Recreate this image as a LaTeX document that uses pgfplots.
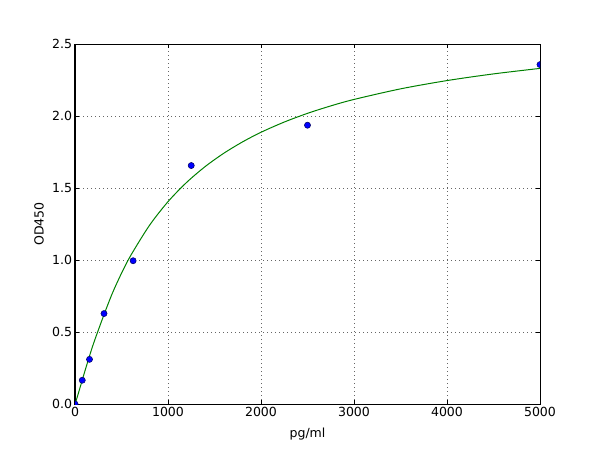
\documentclass[border=0pt]{standalone}
\usepackage{fontspec}
\setmainfont{DejaVu Sans}
\usepackage{pgfplots}
\pgfplotsset{compat=1.18}
\begin{document}
\fontsize{9.4pt}{11pt}\selectfont
\begin{tikzpicture}[x=1pt,y=1pt]
\path[use as bounding box] (-56.25,-34.5) rectangle (393.75,303);
\begin{axis}[
  at={(0,0)}, anchor=south west,
  width=348.75pt, height=270pt, scale only axis,
  xmin=0, xmax=5000, ymin=0, ymax=2.5,
  xtick={0,1000,2000,3000,4000,5000},
  ytick={0,0.5,1,1.5,2,2.5},
  yticklabel style={/pgf/number format/.cd, fixed, fixed zerofill, precision=1},
  xticklabel style={/pgf/number format/.cd, fixed, 1000 sep={}},
  /pgf/number format/assume math mode=true,
  scaled x ticks=false, scaled y ticks=false,
  tick align=inside, tick pos=both,
  major tick length=3pt,
  tick style={black, line width=0.5pt},
  axis line style={black, line width=0.75pt},
  grid=major, grid style={black!60, dash pattern=on 0.75pt off 2.25pt, line width=0.5pt},
  clip marker paths=true,
  xlabel={pg/ml}, ylabel={OD450},
  tick label style={font=\fontsize{9.4pt}{11pt}\selectfont},
  label style={font=\fontsize{9.4pt}{11pt}\selectfont},
  xlabel style={yshift=-3.5pt},
  ylabel style={yshift=1pt},
  every tick label/.append style={inner sep=2pt},
]
\addplot[color={rgb,255:red,0;green,128;blue,0}, line width=0.75pt, smooth, no marks] coordinates {
(0,0) (25,0.0498) (50,0.1045) (100,0.2145) (150,0.3208) (200,0.4215)
(300,0.5999) (400,0.7664) (500,0.9078) (600,1.0322) (800,1.2397)
(1000,1.405) (1200,1.5387) (1400,1.6490) (1600,1.7413) (1800,1.8196)
(2000,1.887) (2250,1.9580) (2500,2.0184) (2750,2.0701) (3000,2.115)
(3500,2.1884) (4000,2.246) (4500,2.2924) (5000,2.3306)
};
\addplot[only marks, mark=*, mark size=2.3pt, mark options={fill={rgb,255:red,0;green,0;blue,255}, draw={rgb,255:red,0;green,0;blue,100}, line width=0.4pt}] coordinates {
(0,0.0) (78,0.165) (156,0.31) (312,0.628) (625,0.995) (1250,1.656) (2500,1.936) (5000,2.357)
};
\end{axis}
\end{tikzpicture}
\end{document}
